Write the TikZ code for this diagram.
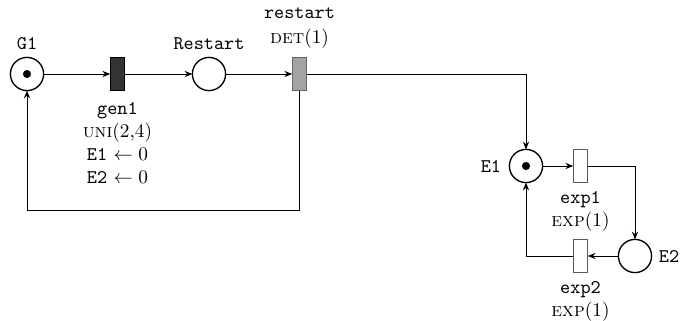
\documentclass[tikz,border=0pt]{standalone}
\usepackage{amsmath}
\usetikzlibrary{arrows.meta}
\definecolor{NetInk}{gray}{0.0}
\definecolor{NetTimed}{gray}{0.2}
\definecolor{NetDet}{gray}{0.64}
\definecolor{NetDetEdge}{gray}{0.4}
\definecolor{NetExpEdge}{gray}{0.35}
\tikzset{
    net/diagram/.style={
        font=\normalsize,
        text=NetInk,
        line join=miter,
        every node/.style={inner sep=0pt, outer sep=0pt}
    },
    net/place/.style={
        circle, draw=NetInk, line width=0.7pt,
        minimum size=17.2pt, inner sep=0pt
    },
    net/token/.style={circle, fill=NetInk, draw=none, minimum size=4.2pt},
    net/trans/.style={
        rectangle, line width=0.6pt,
        minimum width=7.6pt, minimum height=17.2pt
    },
    net/gen/.style={net/trans, fill=NetTimed, draw=NetInk},
    net/det/.style={net/trans, fill=NetDet, draw=NetDetEdge},
    net/exp/.style={net/trans, fill=white, draw=NetExpEdge},
    net/arc/.style={
        draw=NetInk, line width=0.45pt,
        -{Stealth[length=4pt, width=3.2pt]}
    },
    net/label/.style={align=center, inner sep=1pt}
}
\begin{document}
\begin{tikzpicture}[net/diagram, x=0.518pt, y=0.518pt]
    \useasboundingbox (0,0) rectangle (683,-321);
    \node[net/place] (G1) at (27,-74) {};
    \node[net/token] (G1tok) at (G1) {};
    \node[net/gen] (gen1) at (117.5,-74) {};
    \node[net/place] (Restart) at (209,-74) {};
    \node[net/det] (restart) at (299.5,-74) {};
    \node[net/place] (E1) at (526,-166) {};
    \node[net/token] (E1tok) at (E1) {};
    \node[net/exp] (exp1) at (580.5,-166) {};
    \node[net/place] (E2) at (635,-256) {};
    \node[net/exp] (exp2) at (580.5,-256) {};
    \coordinate (loop) at (27,-210);

    \node[net/label] (G1lab) at (27,-44) {\texttt{G1}};
    \node[net/label] (Restartlab) at (209,-44) {\texttt{Restart}};
    \node[net/label] (restartlab) at (299.5,-28)
        {\texttt{restart}\\[1pt] \textsc{det}(1)};
    \node[net/label] (gen1lab) at (117.5,-143)
        {\texttt{gen1}\\ \textsc{uni}(2,4)\\
         \texttt{E1} $\leftarrow 0$\\ \texttt{E2} $\leftarrow 0$};
    \node[net/label, anchor=east] (E1lab) at (503,-166) {\texttt{E1}};
    \node[net/label, anchor=west] (E2lab) at (657,-256) {\texttt{E2}};
    \node[net/label] (exp1lab) at (580.5,-211) {\texttt{exp1}\\ \textsc{exp}(1)};
    \node[net/label] (exp2lab) at (580.5,-301) {\texttt{exp2}\\ \textsc{exp}(1)};

    \draw[net/arc] (G1) -- (gen1);
    \draw[net/arc] (gen1) -- (Restart);
    \draw[net/arc] (Restart) -- (restart);
    \draw[net/arc] (restart.east) -| (E1.north);
    \draw[net/arc] (restart.south) |- (loop) -- (G1.south);
    \draw[net/arc] (E1) -- (exp1);
    \draw[net/arc] (exp1.east) -| (E2.north);
    \draw[net/arc] (E2) -- (exp2);
    \draw[net/arc] (exp2.west) -| (E1.south);
\end{tikzpicture}
\end{document}
